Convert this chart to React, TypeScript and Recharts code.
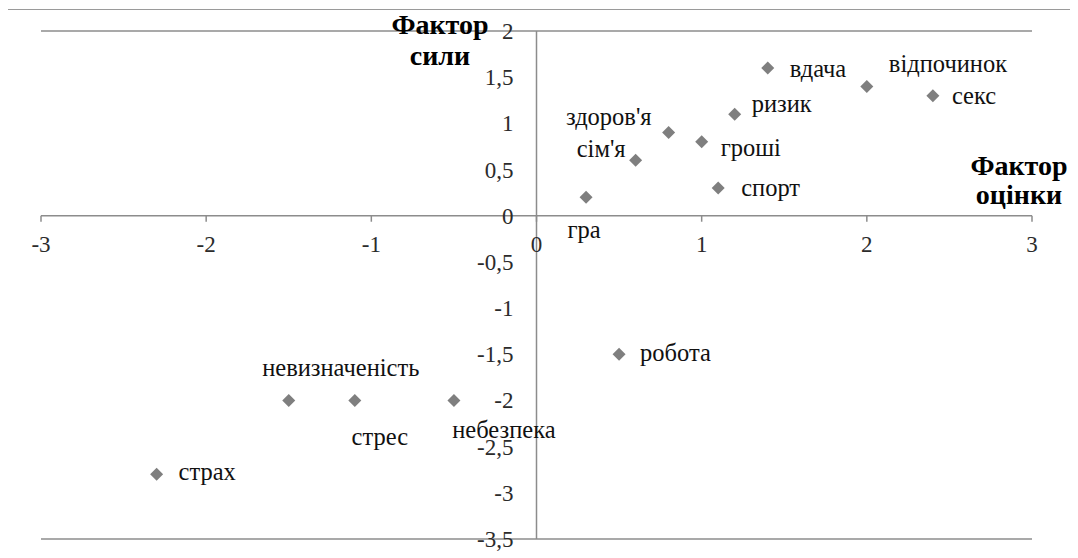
import React from 'react';
import {
  ScatterChart,
  Scatter,
  XAxis,
  YAxis,
  CartesianGrid,
  ReferenceLine,
  ReferenceDot,
  Customized,
} from 'recharts';

// ---- data ----
const names = [
  'вдача',
  'відпочинок',
  'секс',
  'ризик',
  "здоров'я",
  'гроші',
  "сім'я",
  'спорт',
  'гра',
  'робота',
  'невизначеність',
  'стрес',
  'небезпека',
  'страх',
];
const evaluation = [1.4, 2.0, 2.4, 1.2, 0.8, 1.0, 0.6, 1.1, 0.3, 0.5, -1.5, -1.1, -0.5, -2.3];
const strength = [1.6, 1.4, 1.3, 1.1, 0.9, 0.8, 0.6, 0.3, 0.2, -1.5, -2.0, -2.0, -2.0, -2.8];
const xTicks = [-3, -2, -1, 0, 1, 2, 3];
const yTicks = [2, 1.5, 1, 0.5, 0, -0.5, -1, -1.5, -2, -2.5, -3, -3.5];
const xTitle = ['Фактор', 'оцінки'];
const yTitle = ['Фактор', 'сили'];

// ---- styles ----
const FONT = 'Liberation Serif, DejaVu Serif, serif';
const GRID = '#8c8c8c';
const MARK = '#7f7f7f';
const TEXT = '#111111';
const TICK_TEXT = '#2b2b2b';

type Placement = { dx: number; dy: number; anchor: 'start' | 'middle' | 'end' };
const LABEL_PLACEMENT: Record<string, Placement> = {
  'вдача': { dx: 22, dy: 9, anchor: 'start' },
  'відпочинок': { dx: 22, dy: -14, anchor: 'start' },
  'секс': { dx: 19, dy: 8, anchor: 'start' },
  'ризик': { dx: 17, dy: -2, anchor: 'start' },
  "здоров'я": { dx: -17, dy: -8, anchor: 'end' },
  'гроші': { dx: 19, dy: 14, anchor: 'start' },
  "сім'я": { dx: -10, dy: -3, anchor: 'end' },
  'спорт': { dx: 23, dy: 8, anchor: 'start' },
  'гра': { dx: -2, dy: 41, anchor: 'middle' },
  'робота': { dx: 21, dy: 7, anchor: 'start' },
  'невизначеність': { dx: 52, dy: -24, anchor: 'middle' },
  'стрес': { dx: 25, dy: 45, anchor: 'middle' },
  'небезпека': { dx: 50, dy: 38, anchor: 'middle' },
  'страх': { dx: 22, dy: 6, anchor: 'start' },
};

const data = names.map((name, i) => ({ name, x: evaluation[i], y: strength[i] }));

const fmt = (v: number) => String(v).replace('.', ',');

const labelStyle = { fontFamily: FONT, fontSize: 24.5 };
const tickStyle = { fontFamily: FONT, fontSize: 23 };

const DiamondWithLabel = (props: any) => {
  const { cx, cy, payload } = props;
  if (cx == null || cy == null) return null;
  const s = 6.5;
  const p = LABEL_PLACEMENT[payload.name] || { dx: 18, dy: 7, anchor: 'start' };
  return (
    <g>
      <polygon
        points={`${cx},${cy - s} ${cx + s},${cy} ${cx},${cy + s} ${cx - s},${cy}`}
        fill={MARK}
      />
      <text x={cx + p.dx} y={cy + p.dy} textAnchor={p.anchor} style={labelStyle} fill={TEXT}>
        {payload.name}
      </text>
    </g>
  );
};

const XTickMark = (label: string) => (props: any) => {
  const { cx, cy } = props;
  if (cx == null || cy == null) return null;
  return (
    <g>
      <line x1={cx} y1={cy} x2={cx} y2={cy + 6} stroke={GRID} strokeWidth={1.5} />
      <text x={cx} y={cy + 36} textAnchor="middle" style={tickStyle} fill={TICK_TEXT}>
        {label}
      </text>
    </g>
  );
};

const YTickMark = (label: string) => (props: any) => {
  const { cx, cy } = props;
  if (cx == null || cy == null) return null;
  return (
    <text x={cx - 23} y={cy + 8} textAnchor="end" style={tickStyle} fill={TICK_TEXT}>
      {label}
    </text>
  );
};

const titleStyle = { fontFamily: FONT, fontSize: 28, fontWeight: 'bold' as const };

const Titles = () => (
  <g fill="#000">
    <text x={432} y={24} textAnchor="middle" style={titleStyle}>{yTitle[0]}</text>
    <text x={432} y={55} textAnchor="middle" style={titleStyle}>{yTitle[1]}</text>
    <text x={1011} y={165} textAnchor="middle" style={titleStyle}>{xTitle[0]}</text>
    <text x={1011} y={194} textAnchor="middle" style={titleStyle}>{xTitle[1]}</text>
  </g>
);

export default function App() {
  return (
    <div
      style={{
        position: 'relative',
        left: -1,
        top: 1,
        width: 1069,
        height: 560,
        border: '1px solid #9a9a9a',
        background: '#fff',
        fontFamily: FONT,
      }}
    >
      <ScatterChart
        width={1069}
        height={560}
        margin={{ top: 21, right: 45, bottom: 31, left: 33 }}
      >
        <XAxis
          type="number"
          dataKey="x"
          domain={[-3, 3]}
          ticks={xTicks}
          axisLine={false}
          tickLine={false}
          tick={false}
          height={0}
        />
        <YAxis
          type="number"
          dataKey="y"
          domain={[-3.5, 2]}
          ticks={yTicks}
          axisLine={false}
          tickLine={false}
          tick={false}
          width={0}
        />
        <CartesianGrid vertical={false} stroke={GRID} strokeWidth={1.5} />
        <ReferenceLine x={0} stroke={GRID} strokeWidth={1.5} />
        <ReferenceLine y={0} stroke={GRID} strokeWidth={1.5} />
        {xTicks.map((t) => (
          <ReferenceDot key={'xt' + t} x={t} y={0} r={0} shape={XTickMark(fmt(t))} />
        ))}
        {yTicks.map((t) => (
          <ReferenceDot key={'yt' + t} x={0} y={t} r={0} shape={YTickMark(fmt(t))} />
        ))}
        <Scatter data={data} isAnimationActive={false} shape={DiamondWithLabel} />
        <Customized component={Titles} />
      </ScatterChart>
    </div>
  );
}
